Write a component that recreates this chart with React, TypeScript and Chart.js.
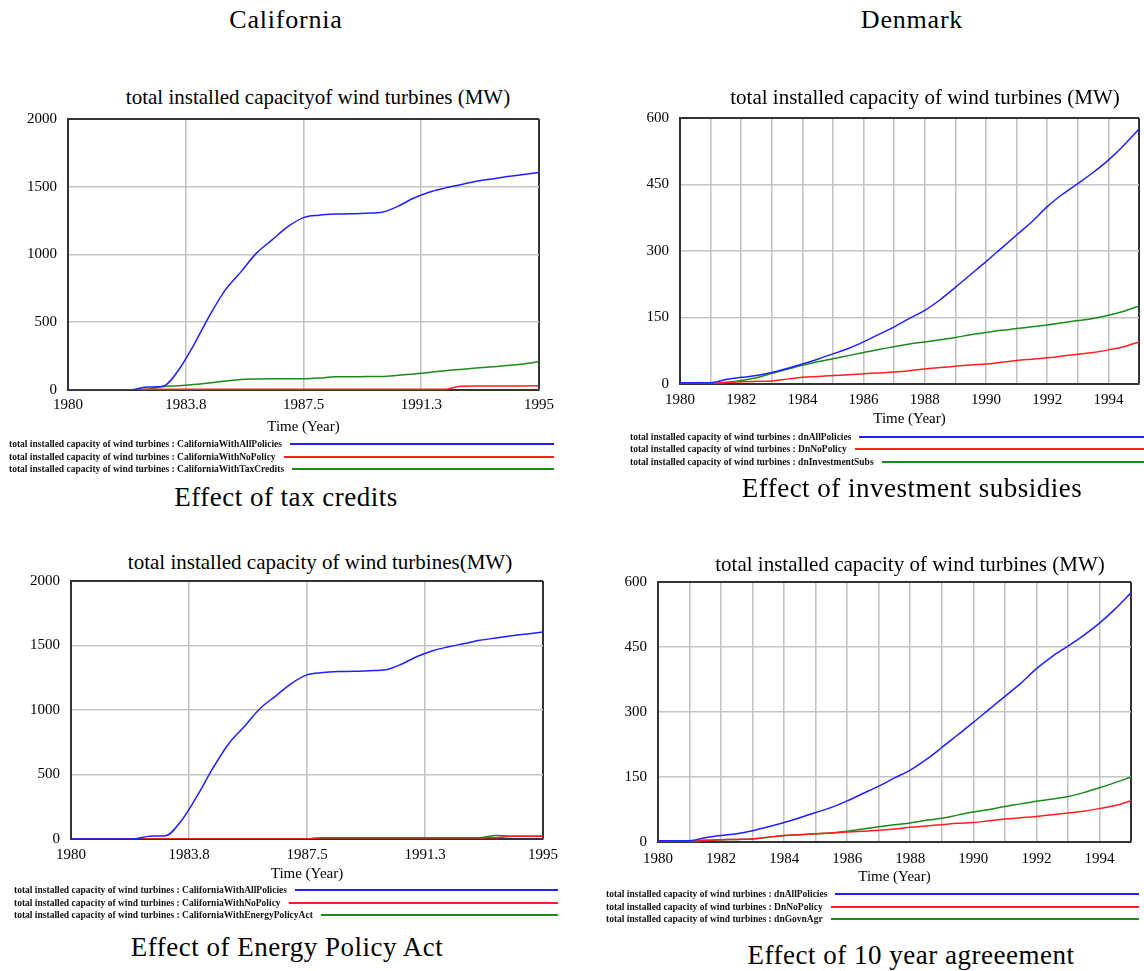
import React, { useEffect, useRef } from "react";
import { Chart, registerables } from "chart.js";

Chart.register(...registerables);

const FONT = "'Liberation Serif', 'Times New Roman', serif";

// ---- data ----
const timeYears = [1980, 1980.5, 1981, 1981.5, 1982, 1982.5, 1983, 1983.5, 1984, 1984.5, 1985, 1985.5, 1986, 1986.5, 1987, 1987.5, 1988, 1988.5, 1989, 1989.5, 1990, 1990.5, 1991, 1991.5, 1992, 1992.5, 1993, 1993.5, 1994, 1994.5, 1995];

const caAllPolicies = [0, 0, 0, 0, 0, 22, 25, 140, 330, 545, 735, 870, 1010, 1108, 1205, 1272, 1290, 1298, 1300, 1305, 1312, 1355, 1415, 1460, 1490, 1515, 1540, 1558, 1575, 1590, 1605];
const caNoPolicyTaxRun = [0, 0, 0, 0, 0, 5, 5, 5, 5, 5, 5, 5, 5, 5, 5, 5, 5, 5, 5, 5, 5, 5, 5, 5, 5, 28, 30, 30, 30, 30, 32];
const caTaxCredits = [0, 0, 0, 0, 0, 5, 25, 32, 40, 52, 66, 78, 82, 83, 83, 83, 88, 98, 98, 99, 100, 108, 118, 130, 142, 152, 162, 171, 180, 192, 208];
const caNoPolicyEpaRun = [0, 0, 0, 0, 0, 0, 0, 0, 0, 0, 0, 0, 0, 0, 0, 0, 10, 10, 10, 10, 10, 10, 10, 10, 10, 10, 10, 10, 22, 22, 22];
const caEnergyPolicyAct = [0, 0, 0, 0, 0, 0, 0, 0, 0, 0, 0, 0, 0, 0, 0, 0, 10, 10, 10, 10, 10, 10, 10, 10, 10, 10, 10, 28, 22, 22, 22];

const dkAllPolicies = [3, 3, 3, 10, 15, 19, 26, 35, 45, 56, 68, 80, 95, 112, 129, 148, 166, 190, 218, 247, 276, 306, 336, 366, 400, 428, 452, 477, 505, 538, 575];
const dkNoPolicy = [0, 0, 1, 4, 5, 6, 7, 11, 15, 17, 19, 21, 23, 25, 27, 30, 34, 37, 40, 43, 45, 49, 53, 56, 59, 63, 67, 71, 77, 84, 95];
const dkInvestmentSubs = [0, 0, 0, 3, 8, 14, 24, 33, 42, 50, 57, 64, 71, 78, 84, 90, 95, 100, 105, 111, 116, 121, 125, 129, 133, 138, 143, 148, 155, 164, 176];
const dkGovnAgr = [0, 0, 1, 4, 5, 6, 7, 11, 15, 17, 19, 21, 25, 30, 35, 40, 44, 50, 55, 62, 69, 75, 82, 88, 94, 99, 105, 114, 125, 137, 150];

const caXTickValues = [1980, 1983.75, 1987.5, 1991.25, 1995];
const caXTickLabels = ["1980", "1983.8", "1987.5", "1991.3", "1995"];
const caYTickValues = [0, 500, 1000, 1500, 2000];
const caYTickLabels = ["0", "500", "1000", "1500", "2000"];

const dkXTickValues = [1980, 1981, 1982, 1983, 1984, 1985, 1986, 1987, 1988, 1989, 1990, 1991, 1992, 1993, 1994, 1995];
const dkXTickLabels = ["1980", "", "1982", "", "1984", "", "1986", "", "1988", "", "1990", "", "1992", "", "1994", ""];
const dkYTickValues = [0, 150, 300, 450, 600];
const dkYTickLabels = ["0", "150", "300", "450", "600"];

const VAR_NAME = "total installed capacity of wind turbines";

// ---- styles ----
const BLUE = "#1f1fff";
const RED = "#ff1f1f";
const GREEN = "#1a8a1a";
const GRID = "#c4c4c4";
const FRAME = "#333333";

type Series = { label: string; values: number[]; color: string };

interface PanelProps {
  left: number;
  top: number;
  width: number;
  height: number;
  pad: { top: number; right: number; bottom: number; left: number };
  xHeight: number;
  xTickPad: number;
  xTickValues: number[];
  xTickLabels: string[];
  yTickValues: number[];
  yTickLabels: string[];
  series: Series[];
}

function ChartPanel(p: PanelProps) {
  const ref = useRef<HTMLCanvasElement>(null);
  useEffect(() => {
    const xMin = p.xTickValues[0];
    const xMax = p.xTickValues[p.xTickValues.length - 1];
    const yMin = p.yTickValues[0];
    const yMax = p.yTickValues[p.yTickValues.length - 1];
    const chart = new Chart(ref.current as HTMLCanvasElement, {
      type: "line",
      data: {
        datasets: p.series.map((s) => ({
          label: s.label,
          data: timeYears.map((t, i) => ({ x: t, y: s.values[i] })),
          borderColor: s.color,
          backgroundColor: s.color,
          borderWidth: 1.5,
          pointRadius: 0,
          cubicInterpolationMode: "monotone" as const,
          fill: false,
        })),
      },
      options: {
        animation: false,
        responsive: true,
        maintainAspectRatio: false,
        layout: { padding: p.pad },
        plugins: {
          legend: { display: false },
          tooltip: { enabled: false },
          title: { display: false },
        },
        scales: {
          x: {
            type: "linear",
            min: xMin,
            max: xMax,
            afterBuildTicks: (axis: any) => {
              axis.ticks = p.xTickValues.map((v) => ({ value: v }));
            },
            afterFit: (axis: any) => {
              axis.height = p.xHeight;
            },
            ticks: {
              autoSkip: false,
              maxRotation: 0,
              minRotation: 0,
              padding: p.xTickPad,
              color: "#000",
              font: { family: FONT, size: 15 },
              callback: (v: any) => {
                const i = p.xTickValues.indexOf(Number(v));
                return i >= 0 ? p.xTickLabels[i] : "";
              },
            },
            grid: {
              drawTicks: false,
              color: (c: any) => (c.tick && c.tick.value === xMax ? FRAME : GRID),
              lineWidth: (c: any) => (c.tick && c.tick.value === xMax ? 2 : 1.6),
            },
            border: { display: true, color: FRAME, width: 2 },
            title: {
              display: true,
              text: "Time (Year)",
              color: "#000",
              font: { family: FONT, size: 15 },
              padding: { top: 0, bottom: 2 },
            },
          },
          y: {
            type: "linear",
            min: yMin,
            max: yMax,
            afterBuildTicks: (axis: any) => {
              axis.ticks = p.yTickValues.map((v) => ({ value: v }));
            },
            afterFit: (axis: any) => {
              axis.width = 50;
            },
            ticks: {
              padding: 11,
              color: "#000",
              font: { family: FONT, size: 15 },
              callback: (v: any) => {
                const i = p.yTickValues.indexOf(Number(v));
                return i >= 0 ? p.yTickLabels[i] : "";
              },
            },
            grid: {
              drawTicks: false,
              color: (c: any) => (c.tick && c.tick.value === yMax ? FRAME : GRID),
              lineWidth: (c: any) => (c.tick && c.tick.value === yMax ? 2 : 1.6),
            },
            border: { display: true, color: FRAME, width: 2 },
          },
        },
      } as any,
    });
    return () => chart.destroy();
  }, []);
  return (
    <div style={{ position: "absolute", left: p.left, top: p.top, width: p.width, height: p.height }}>
      <canvas ref={ref} />
    </div>
  );
}

function Label({ cx, cy, size, text, spacing = 0 }: { cx: number; cy: number; size: number; text: string; spacing?: number }) {
  return (
    <div
      style={{
        position: "absolute",
        left: cx - 400,
        width: 800,
        top: cy - size / 2,
        height: size,
        lineHeight: `${size}px`,
        fontSize: size,
        fontFamily: FONT,
        textAlign: "center",
        whiteSpace: "nowrap",
        letterSpacing: spacing,
        color: "#000",
      }}
    >
      {text}
    </div>
  );
}

function LegendRows({ left, right, ys, series }: { left: number; right: number; ys: number[]; series: Series[] }) {
  return (
    <>
      {series.map((s, i) => (
        <div
          key={s.label + i}
          style={{
            position: "absolute",
            left,
            top: ys[i] - 6,
            width: right - left,
            height: 12,
            display: "flex",
            alignItems: "center",
          }}
        >
          <span
            style={{
              fontFamily: FONT,
              fontSize: 9.5,
              fontWeight: "bold",
              whiteSpace: "nowrap",
              lineHeight: "12px",
              color: "#111",
            }}
          >
            {`${VAR_NAME} : ${s.label}`}
          </span>
          <div style={{ flex: 1, height: 2, background: s.color, marginLeft: 8 }} />
        </div>
      ))}
    </>
  );
}

const seriesTax: Series[] = [
  { label: "CaliforniaWithAllPolicies", values: caAllPolicies, color: BLUE },
  { label: "CaliforniaWithNoPolicy", values: caNoPolicyTaxRun, color: RED },
  { label: "CaliforniaWithTaxCredits", values: caTaxCredits, color: GREEN },
];
const seriesInvest: Series[] = [
  { label: "dnAllPolicies", values: dkAllPolicies, color: BLUE },
  { label: "DnNoPolicy", values: dkNoPolicy, color: RED },
  { label: "dnInvestmentSubs", values: dkInvestmentSubs, color: GREEN },
];
const seriesEpa: Series[] = [
  { label: "CaliforniaWithAllPolicies", values: caAllPolicies, color: BLUE },
  { label: "CaliforniaWithNoPolicy", values: caNoPolicyEpaRun, color: RED },
  { label: "CaliforniaWithEnergyPolicyAct", values: caEnergyPolicyAct, color: GREEN },
];
const seriesAgr: Series[] = [
  { label: "dnAllPolicies", values: dkAllPolicies, color: BLUE },
  { label: "DnNoPolicy", values: dkNoPolicy, color: RED },
  { label: "dnGovnAgr", values: dkGovnAgr, color: GREEN },
];

export default function App() {
  return (
    <div
      style={{
        position: "absolute",
        left: 0,
        top: 0,
        width: 1144,
        height: 971,
        overflow: "hidden",
        background: "#fff",
      }}
    >
      <Label cx={286} cy={20} size={26} spacing={0.8} text="California" />
      <Label cx={912} cy={20} size={26} spacing={0.8} text="Denmark" />

      {/* Top-left */}
      <Label cx={318} cy={97} size={21} text="total installed capacityof wind turbines (MW)" />
      <ChartPanel
        left={18}
        top={99}
        width={545}
        height={343}
        pad={{ top: 0, right: 24, bottom: 4, left: 0 }}
        xHeight={48}
        xTickPad={6}
        xTickValues={caXTickValues}
        xTickLabels={caXTickLabels}
        yTickValues={caYTickValues}
        yTickLabels={caYTickLabels}
        series={seriesTax}
      />
      <LegendRows left={9} right={554} ys={[444, 456.5, 469]} series={seriesTax} />
      <Label cx={286} cy={497} size={27} spacing={0.5} text="Effect of tax credits" />

      {/* Top-right */}
      <Label cx={925} cy={97} size={21} text="total installed capacity of wind turbines (MW)" />
      <ChartPanel
        left={630}
        top={98}
        width={517}
        height={334}
        pad={{ top: 0, right: 8, bottom: 2, left: 0 }}
        xHeight={46}
        xTickPad={7}
        xTickValues={dkXTickValues}
        xTickLabels={dkXTickLabels}
        yTickValues={dkYTickValues}
        yTickLabels={dkYTickLabels}
        series={seriesInvest}
      />
      <LegendRows left={630} right={1144} ys={[436.7, 449.3, 462]} series={seriesInvest} />
      <Label cx={912} cy={488} size={27} spacing={0.5} text="Effect of investment subsidies" />

      {/* Bottom-left */}
      <Label cx={320} cy={562} size={21} text="total installed capacity of wind turbines(MW)" />
      <ChartPanel
        left={21}
        top={561}
        width={546}
        height={326}
        pad={{ top: 0, right: 24, bottom: 2, left: 0 }}
        xHeight={46}
        xTickPad={7}
        xTickValues={caXTickValues}
        xTickLabels={caXTickLabels}
        yTickValues={caYTickValues}
        yTickLabels={caYTickLabels}
        series={seriesEpa}
      />
      <LegendRows left={14} right={558} ys={[890, 902.5, 914.5]} series={seriesEpa} />
      <Label cx={287} cy={947} size={27} spacing={0.5} text="Effect of Energy Policy Act" />

      {/* Bottom-right */}
      <Label cx={910} cy={564} size={21} text="total installed capacity of wind turbines (MW)" />
      <ChartPanel
        left={608}
        top={562}
        width={535}
        height={328}
        pad={{ top: 0, right: 12, bottom: 2, left: 0 }}
        xHeight={46}
        xTickPad={8}
        xTickValues={dkXTickValues}
        xTickLabels={dkXTickLabels}
        yTickValues={dkYTickValues}
        yTickLabels={dkYTickLabels}
        series={seriesAgr}
      />
      <LegendRows left={606} right={1139} ys={[894, 906.5, 918.5]} series={seriesAgr} />
      <Label cx={911} cy={955} size={27} spacing={0.5} text="Effect of 10 year agreeement" />
    </div>
  );
}
